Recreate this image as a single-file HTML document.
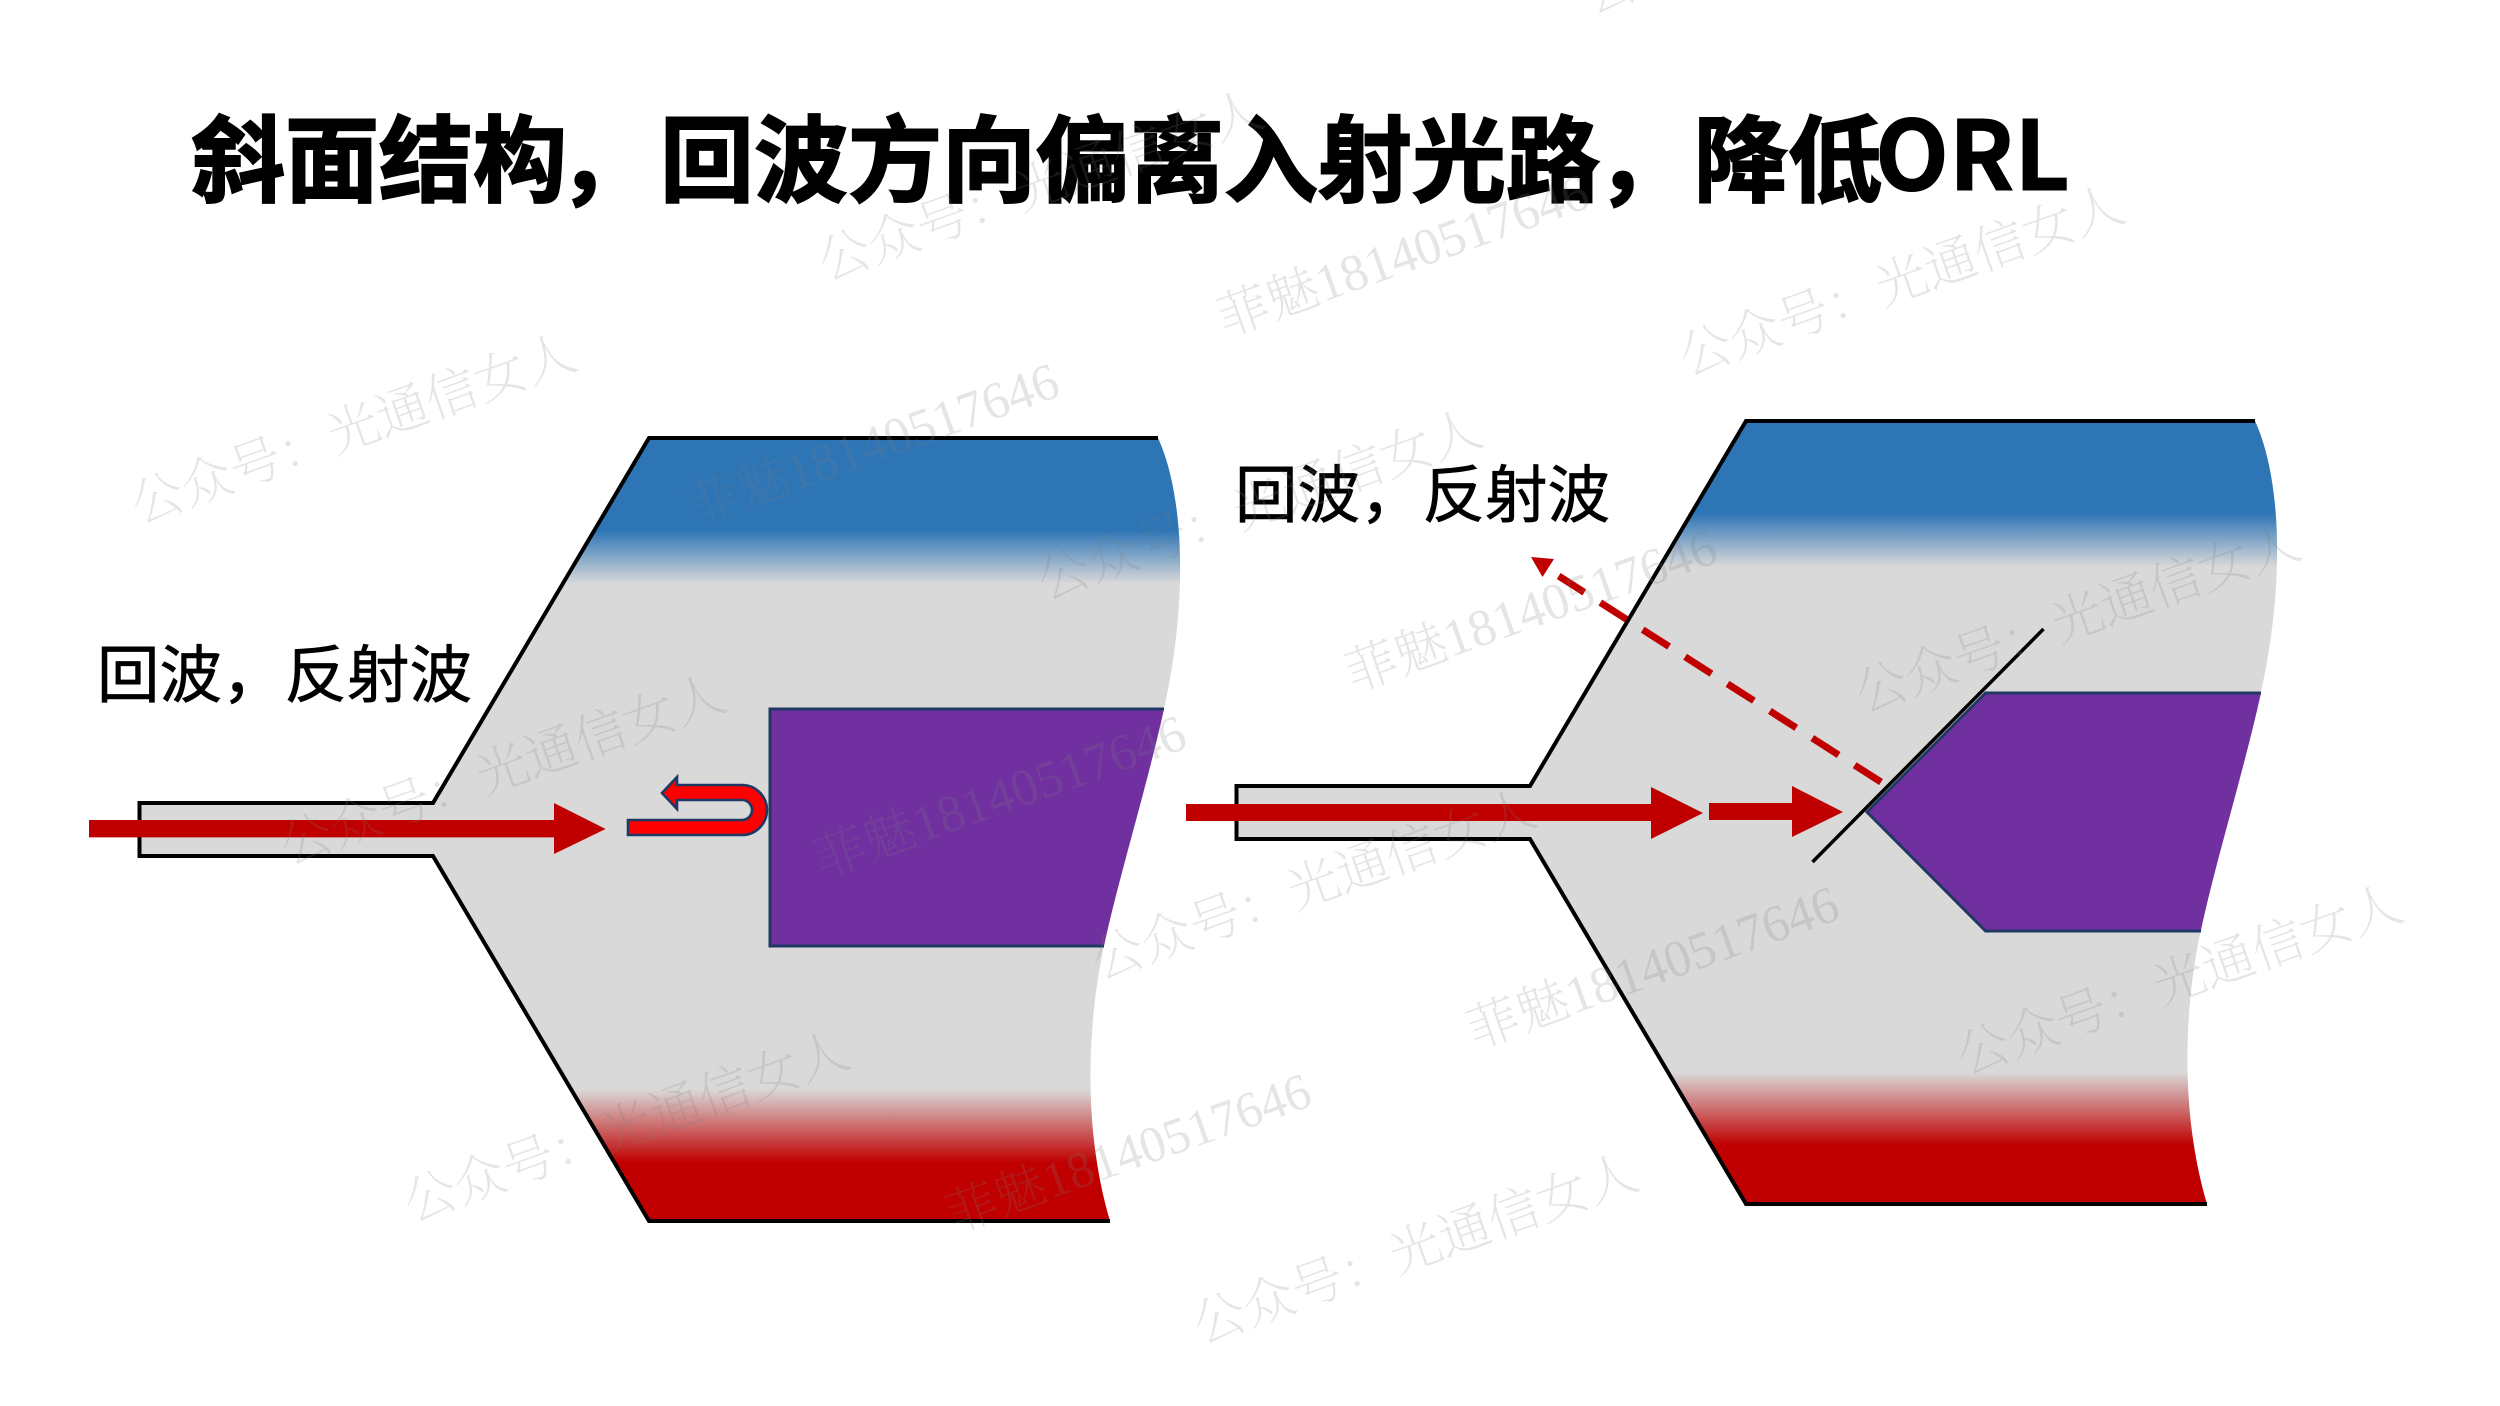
<!DOCTYPE html>
<html><head><meta charset="utf-8">
<style>html,body{margin:0;padding:0;background:#fff;width:2500px;height:1406px;overflow:hidden}svg{display:block}</style></head>
<body>
<svg xmlns="http://www.w3.org/2000/svg" width="2500" height="1406" viewBox="0 0 2500 1406">
<defs>
<linearGradient id="g" gradientUnits="userSpaceOnUse" x1="0" y1="438" x2="0" y2="1221">
<stop offset="0" stop-color="#2e75b6"/>
<stop offset="0.118" stop-color="#2e75b6"/>
<stop offset="0.186" stop-color="#d9d9d9"/>
<stop offset="0.832" stop-color="#d9d9d9"/>
<stop offset="0.925" stop-color="#c00000"/>
<stop offset="1" stop-color="#c00000"/>
</linearGradient>
<g id="body">
<path fill="url(#g)" d="M139.5,803 H433 L649,438 H1158 C1182,490 1190,590 1164,709 C1146,790 1118,880 1104,946 C1090,1010 1080,1120 1110,1221 H649 L433,856 H139.5 Z"/>
<path fill="none" stroke="#000" stroke-width="4" d="M1158,438 H649 L433,803 H139.5 V856 H433 L649,1221 H1110"/>
</g>
</defs>

<text y="194" font-family="'Noto Sans CJK SC','Liberation Sans',sans-serif" font-size="94" font-weight="700" fill="#000" stroke="#000" stroke-width="2"><tspan x="191">斜面结构</tspan><tspan x="558">，</tspan><tspan x="660">回波方向偏离入射光路</tspan><tspan x="1596">，</tspan><tspan x="1694">降低</tspan></text>
<text x="1875" y="190" font-family="'Noto Sans CJK SC','Liberation Sans',sans-serif" font-size="96" font-weight="700" fill="#000" stroke="#000" stroke-width="1">ORL</text>

<use href="#body"/>
<use href="#body" transform="translate(1097,-17)"/>

<path fill="#7030a0" d="M770,709 H1164 C1146,790 1118,880 1104,946 H770 Z"/>
<path fill="none" stroke="#1f3864" stroke-width="3" d="M1164,709 H770 V946 H1104"/>

<path fill="#7030a0" d="M1867,812 L1985.6,693 H2261 C2243,774 2215,864 2201,930 H1985.6 Z"/>
<path fill="none" stroke="#1f3864" stroke-width="3" d="M2261,693 H1985.6 L1867,812 L1985.6,931 H2201"/>

<path fill="#c00000" d="M89,820 H554 V803 L605.6,829 L554,854 V837.4 H89 Z"/>
<path fill="#ff0000" stroke="#1f3864" stroke-width="2.6" d="M628,820 H742 A10,10 0 0 0 742,800 H677 V809 L662,793 L677,777 V785 H742 A25,25 0 0 1 742,835 H628 Z"/>

<path fill="#c00000" d="M1186,804 H1651 V787 L1703,813 L1651,839 V821 H1186 Z"/>
<path fill="#c00000" d="M1709,803 H1792 V786 L1843,812 L1792,837 V820 H1709 Z"/>

<line x1="1812.5" y1="862" x2="2043.5" y2="629" stroke="#000" stroke-width="3.5"/>

<line x1="1881" y1="782" x2="1558.7" y2="576" stroke="#c00000" stroke-width="7" stroke-dasharray="31.3 19"/>
<path fill="#c00000" d="M1531,557 L1554,559 L1542.5,577 Z"/>

<text x="97" y="697" font-family="'Liberation Sans','Noto Sans CJK SC',sans-serif" font-size="62.5" fill="#000" stroke="#000" stroke-width="0.7">回波，反射波</text>
<text x="1235" y="517" font-family="'Liberation Sans','Noto Sans CJK SC',sans-serif" font-size="62.5" fill="#000" stroke="#000" stroke-width="0.7">回波，反射波</text>

<g font-family="'Liberation Serif','Noto Serif CJK SC',serif" font-size="52" font-weight="200" fill="#7f7f7f" fill-opacity="0.2">
<text transform="translate(139,524) rotate(-19.6)">公众号：光通信女人</text>
<text transform="translate(695,526) rotate(-19.6)">菲魅18140517646</text>
<text transform="translate(826,281) rotate(-19.6)">公众号：光通信女人</text>
<text transform="translate(1225,337) rotate(-19.6)">菲魅18140517646</text>
<text transform="translate(1687,376) rotate(-19.6)">公众号：光通信女人</text>
<text transform="translate(1045,600) rotate(-19.6)">公众号：光通信女人</text>
<text transform="translate(1353,692) rotate(-19.6)">菲魅18140517646</text>
<text transform="translate(1863,713) rotate(-19.6)">公众号：光通信女人</text>
<text transform="translate(288,865) rotate(-19.6)">公众号：光通信女人</text>
<text transform="translate(822,878) rotate(-19.6)">菲魅18140517646</text>
<text transform="translate(1099,980) rotate(-19.6)">公众号：光通信女人</text>
<text transform="translate(1475,1049) rotate(-19.6)">菲魅18140517646</text>
<text transform="translate(1965,1075) rotate(-19.6)">公众号：光通信女人</text>
<text transform="translate(412,1222) rotate(-19.6)">公众号：光通信女人</text>
<text transform="translate(954,1233) rotate(-19.6)" font-size="51">菲魅18140517646</text>
<text transform="translate(1201,1344) rotate(-19.6)">公众号：光通信女人</text>
<text transform="translate(1591,14) rotate(-19.6)">公</text>
</g>
</svg>
</body></html>
